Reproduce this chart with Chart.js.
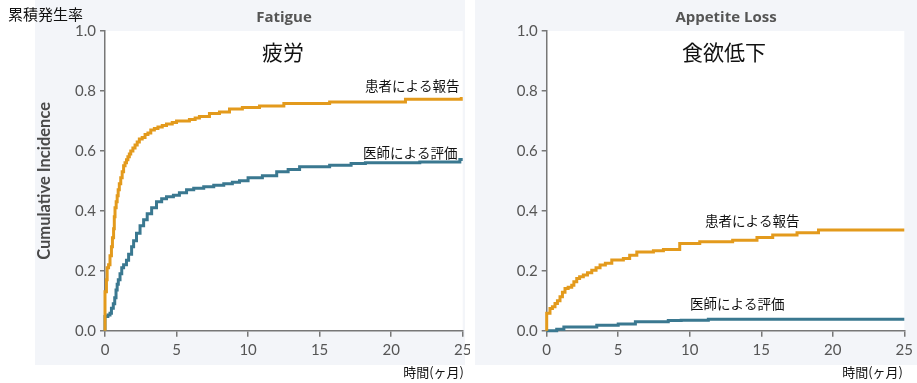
<!DOCTYPE html>
<html>
<head>
<meta charset="utf-8">
<script src="https://cdn.jsdelivr.net/npm/chart.js@4.4.1/dist/chart.umd.min.js"></script>
<style>
  body { margin: 0; background: #fff; }
  #wrap { position: relative; width: 917px; height: 383px; }
  canvas { position: absolute; top: 0; }
</style>
</head>
<body>
<div id="wrap">
  <canvas id="fatigue" width="470" height="383" style="left:0"></canvas>
  <canvas id="appetite" width="447" height="383" style="left:470px"></canvas>
</div>
<script>
// months / cumulative incidence
const fatiguePatientT = [0, 0, 0.1, 0.15, 0.25, 0.35, 0.45, 0.52, 0.6, 0.65, 0.7, 0.78, 0.85, 0.92, 1.0, 1.1, 1.2, 1.3, 1.4, 1.5, 1.6, 1.7, 1.8, 1.95, 2.1, 2.25, 2.4, 2.6, 2.8, 3.0, 3.2, 3.45, 3.7, 4.0, 4.3, 4.7, 5.0, 5.9, 6.3, 6.6, 7.3, 8.0, 8.7, 9.6, 10.8, 12.5, 15.7, 21.0, 24.9, 25];
const fatiguePatient = [0, 0.13, 0.17, 0.21, 0.22, 0.25, 0.28, 0.31, 0.34, 0.38, 0.41, 0.43, 0.45, 0.47, 0.49, 0.51, 0.53, 0.55, 0.56, 0.57, 0.58, 0.59, 0.60, 0.61, 0.62, 0.63, 0.64, 0.645, 0.655, 0.66, 0.67, 0.675, 0.68, 0.685, 0.69, 0.695, 0.70, 0.705, 0.71, 0.715, 0.725, 0.73, 0.74, 0.745, 0.75, 0.758, 0.763, 0.772, 0.775, 0.775];

const fatigueDoctorT = [0, 0, 0.2, 0.35, 0.45, 0.58, 0.68, 0.77, 0.85, 0.93, 1.05, 1.17, 1.3, 1.5, 1.65, 1.86, 2.0, 2.2, 2.45, 2.7, 2.95, 3.26, 3.6, 3.96, 4.3, 4.78, 5.2, 5.7, 6.2, 6.9, 7.6, 8.3, 8.9, 9.4, 10.0, 11.0, 12.0, 12.8, 13.6, 15.7, 17.2, 18.2, 22.0, 24.8, 25];
const fatigueDoctor = [0, 0.047, 0.052, 0.058, 0.075, 0.09, 0.11, 0.136, 0.155, 0.17, 0.19, 0.21, 0.22, 0.235, 0.255, 0.28, 0.30, 0.325, 0.35, 0.37, 0.39, 0.41, 0.43, 0.44, 0.447, 0.452, 0.46, 0.47, 0.475, 0.48, 0.485, 0.49, 0.495, 0.50, 0.51, 0.517, 0.53, 0.538, 0.547, 0.552, 0.558, 0.56, 0.563, 0.571, 0.571];

const appetitePatientT = [0, 0, 0.23, 0.4, 0.58, 0.75, 0.93, 1.1, 1.28, 1.5, 1.75, 1.9, 2.1, 2.3, 2.56, 2.85, 3.15, 3.45, 3.73, 4.1, 4.55, 5.36, 5.8, 6.3, 7.46, 8.16, 9.3, 10.7, 13.0, 14.7, 15.8, 17.5, 19.0, 25];
const appetitePatient = [0, 0.058, 0.074, 0.08, 0.091, 0.10, 0.113, 0.128, 0.141, 0.145, 0.152, 0.163, 0.174, 0.18, 0.186, 0.193, 0.202, 0.21, 0.219, 0.225, 0.236, 0.241, 0.252, 0.263, 0.267, 0.271, 0.291, 0.297, 0.302, 0.311, 0.319, 0.327, 0.336, 0.336];

const appetiteDoctorT = [0, 0.7, 1.2, 3.5, 5.0, 6.2, 8.5, 9.4, 11.3, 25];
const appetiteDoctor = [0, 0.005, 0.012, 0.018, 0.022, 0.03, 0.034, 0.035, 0.038, 0.038];

const xTicks = [0, 5, 10, 15, 20, 25];
const yTicks = [0, 0.2, 0.4, 0.6, 0.8, 1.0];

const orange = "#e39a1c";
const teal = "#3a7890";
const tickGray = "#555";
const jp = "'Noto Sans CJK JP', 'Noto Sans', sans-serif";

function toPoints(ts, ys) {
  return ts.map((t, i) => ({ x: t, y: ys[i] }));
}

const panelPlugin = {
  id: "panel",
  beforeDraw(chart, args, opts) {
    const ctx = chart.ctx;
    const a = chart.chartArea;
    ctx.save();
    ctx.fillStyle = "#f3f5f9";
    ctx.fillRect(opts.bg[0], opts.bg[1], opts.bg[2], opts.bg[3]);
    ctx.fillStyle = "#fff";
    ctx.fillRect(a.left, a.top, a.right - a.left, a.bottom - a.top);
    ctx.restore();
  },
  afterDraw(chart, args, opts) {
    const ctx = chart.ctx;
    ctx.save();
    ctx.textBaseline = "middle";
    opts.texts.forEach((t) => {
      ctx.font = t.font;
      ctx.fillStyle = t.color || "#111";
      ctx.textAlign = t.align || "left";
      ctx.fillText(t.text, t.x, t.y);
    });
    ctx.restore();
  },
};

function makeChart(id, series, cfg) {
  const ctx = document.getElementById(id).getContext("2d");
  return new Chart(ctx, {
    type: "line",
    data: {
      datasets: [
        {
          data: toPoints(series[0][0], series[0][1]),
          borderColor: orange,
          borderWidth: 3,
          stepped: true,
          pointRadius: 0,
          clip: 4,
        },
        {
          data: toPoints(series[1][0], series[1][1]),
          borderColor: teal,
          borderWidth: 3,
          stepped: true,
          pointRadius: 0,
          clip: 4,
        },
      ],
    },
    options: {
      responsive: false,
      animation: false,
      layout: { padding: { left: 0, top: 31, right: cfg.padRight, bottom: 0 } },
      plugins: {
        legend: { display: false },
        tooltip: { enabled: false },
        panel: { bg: cfg.bg, texts: cfg.texts },
      },
      scales: {
        x: {
          type: "linear",
          min: 0,
          max: 25,
          afterBuildTicks: (s) => { s.ticks = xTicks.map((v) => ({ value: v })); },
          afterFit: (s) => {
            s.height = 52.3;
            s.paddingLeft = 0;
            s.paddingRight = 0;
          },
          grid: { drawOnChartArea: false, tickLength: 6, color: "#777", lineWidth: 1.5 },
          border: { color: "#777", width: 1.5 },
          ticks: { color: tickGray, font: { family: "Lato", size: 15 }, padding: 4, maxRotation: 0 },
        },
        y: {
          min: 0,
          max: 1,
          afterBuildTicks: (s) => { s.ticks = yTicks.map((v) => ({ value: v })); },
          afterFit: (s) => {
            s.width = cfg.yWidth;
            s.paddingTop = 0;
            s.paddingBottom = 0;
          },
          grid: { drawOnChartArea: false, tickLength: 5, color: "#777", lineWidth: 1.5 },
          border: { color: "#777", width: 1.5 },
          ticks: {
            color: tickGray,
            font: { family: "Lato", size: 15 },
            padding: 4,
            callback: (v) => v.toFixed(1),
          },
          title: {
            display: cfg.yTitle,
            text: "Cumulative Incidence",
            color: "#4a4a4a",
            font: { family: "Lato", size: 16.5, weight: "bold" },
            padding: { top: 35, bottom: 0 },
          },
        },
      },
    },
    plugins: [panelPlugin],
  });
}

makeChart("fatigue", [[fatiguePatientT, fatiguePatient], [fatigueDoctorT, fatigueDoctor]], {
  padRight: 7.3,
  yWidth: 105,
  yTitle: true,
  bg: [35, 0, 430, 365],
  texts: [
    { text: "累積発生率", x: 8, y: 14, font: "15px " + jp },
    { text: "Fatigue", x: 284, y: 18, font: "bold 15px 'Open Sans'", color: tickGray, align: "center" },
    { text: "疲労", x: 283, y: 52, font: "21px " + jp, align: "center" },
    { text: "患者による報告", x: 365, y: 86, font: "13.5px " + jp },
    { text: "医師による評価", x: 363, y: 153, font: "13.5px " + jp },
    { text: "時間(ヶ月)", x: 464, y: 372, font: "13px " + jp, align: "right" },
  ],
});

makeChart("appetite", [[appetitePatientT, appetitePatient], [appetiteDoctorT, appetiteDoctor]], {
  padRight: 12.7,
  yWidth: 76.7,
  yTitle: false,
  bg: [5, 0, 442, 365],
  texts: [
    { text: "Appetite Loss", x: 256, y: 18, font: "bold 15px 'Open Sans'", color: tickGray, align: "center" },
    { text: "食欲低下", x: 254, y: 52, font: "21px " + jp, align: "center" },
    { text: "患者による報告", x: 235, y: 221, font: "13.5px " + jp },
    { text: "医師による評価", x: 220, y: 304, font: "13.5px " + jp },
    { text: "時間(ヶ月)", x: 433, y: 372, font: "13px " + jp, align: "right" },
  ],
});
</script>
</body>
</html>
